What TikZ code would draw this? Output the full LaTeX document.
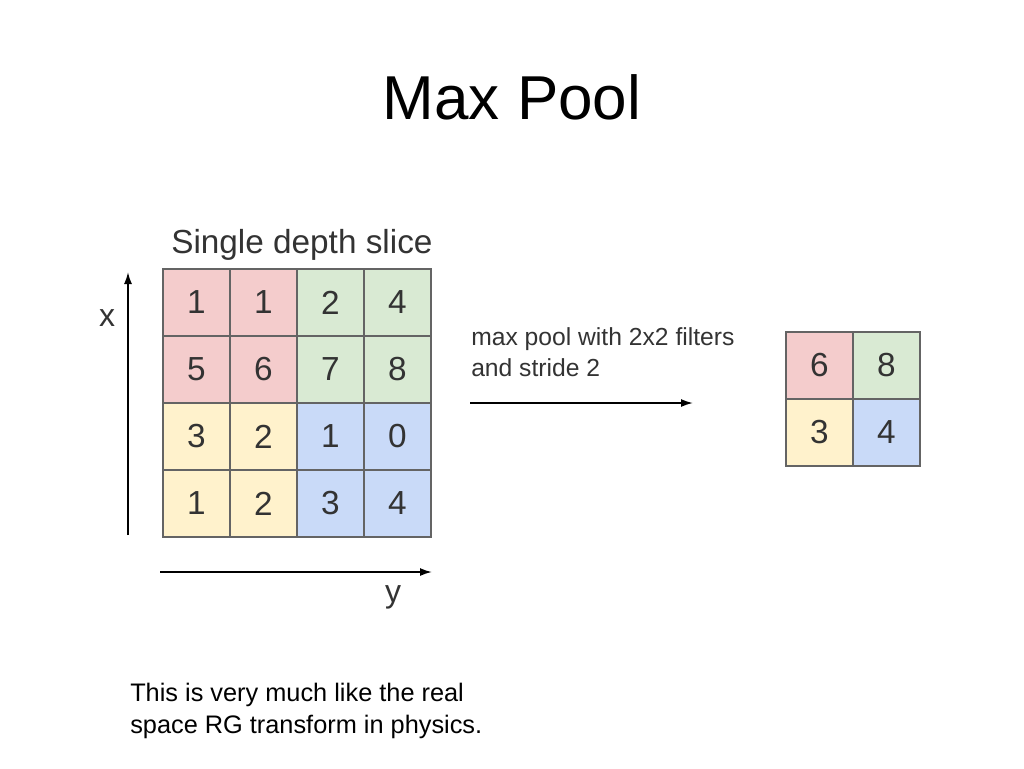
\documentclass[tikz,border=0pt]{standalone}
\usepackage{fontspec}
\setmainfont{Liberation Sans}
\usetikzlibrary{arrows.meta}
\definecolor{cr}{RGB}{244,204,204}
\definecolor{cg}{RGB}{217,234,211}
\definecolor{cy}{RGB}{255,242,204}
\definecolor{cb}{RGB}{201,218,248}
\definecolor{gl}{RGB}{100,100,100}
\begin{document}
\begin{tikzpicture}[x=0.75pt,y=-0.75pt,
 cell/.style={draw=gl,line width=0.8pt,minimum size=50.25pt,inner sep=0pt,font=\fontsize{25}{28}\selectfont,text=black!80},
 lbl/.style={inner sep=0pt,text=black!80},
 axis/.style={line width=1.3pt,-{Latex[length=9pt,width=6pt]}}]
\useasboundingbox (0,0) rectangle (1024,768);
\node[font=\fontsize{46.5}{52}\selectfont] (title) at (512,97) {Max Pool};
\node[lbl,anchor=west,font=\fontsize{25}{28}\selectfont] (slice) at (171,245) {Single depth slice};
\foreach \r/\row in {0/{1/cr,1/cr,2/cg,4/cg},1/{5/cr,6/cr,7/cg,8/cg},2/{3/cy,2/cy,1/cb,0/cb},3/{1/cy,2/cy,3/cb,4/cb}}{
  \foreach \v/\c [count=\k from 0] in \row {
    \node[cell,fill=\c] (a\r\k) at (196.5+67*\k,302.5+67*\r) {\v};
  }
}
\foreach \r/\row in {0/{6/cr,8/cg},1/{3/cy,4/cb}}{
  \foreach \v/\c [count=\k from 0] in \row {
    \node[cell,fill=\c] (b\r\k) at (819.5+67*\k,365.5+67*\r) {\v};
  }
}
\coordinate (xs) at (128,535); \coordinate (xe) at (128,272);
\draw[axis] (xs) -- (xe);
\node[lbl,font=\fontsize{24}{26}\selectfont] (xl) at (107,318) {x};
\coordinate (ys) at (160,572); \coordinate (ye) at (432,572);
\draw[axis] (ys) -- (ye);
\node[lbl,font=\fontsize{24}{26}\selectfont] (yl) at (393,597) {y};
\node[lbl,anchor=west,align=left,font=\fontsize{18.5}{23}\selectfont] (mp) at (471,352) {max pool with 2x2 filters\\ and stride 2};
\coordinate (ms) at (470,403); \coordinate (me) at (693,403);
\draw[axis] (ms) -- (me);
\node[lbl,anchor=west,align=left,text=black,font=\fontsize{19}{23.5}\selectfont] (note) at (130,711) {This is very much like the real\\ space RG transform in physics.};
\end{tikzpicture}
\end{document}
